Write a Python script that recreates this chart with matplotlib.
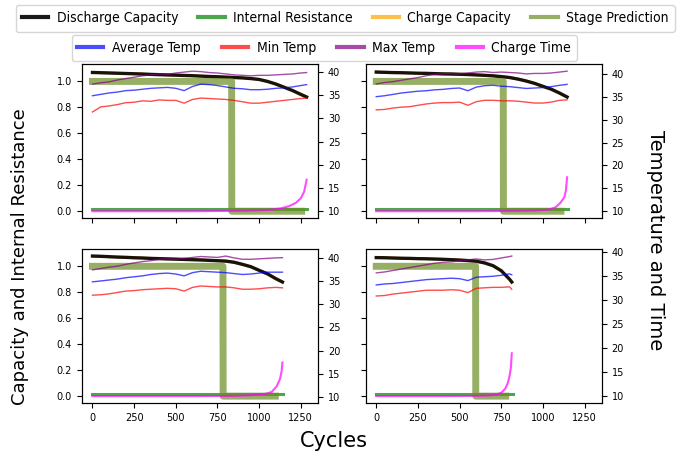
import matplotlib
matplotlib.use("Agg")
import matplotlib.pyplot as plt
from matplotlib import font_manager
from matplotlib.ticker import MultipleLocator

# ---- data (4 cells) ----
# cell A (top left)
cyc_a = [0, 50, 100, 150, 200, 250, 300, 350, 400, 450, 500, 550, 600, 650,
         700, 750, 800, 850, 900, 950, 1000, 1050, 1100, 1150, 1200, 1250, 1285]
dis_a = [1.069, 1.067, 1.065, 1.063, 1.061, 1.059, 1.057, 1.054, 1.052, 1.050, 1.048, 1.046, 1.044, 1.041,
         1.038, 1.036, 1.033, 1.030, 1.027, 1.022, 1.015, 1.000, 0.980, 0.955, 0.930, 0.900, 0.880]
tmax_a = [37.4, 37.7, 37.9, 38.3, 38.6, 38.9, 39.2, 39.4, 39.6, 39.5, 39.8, 40.0, 40.2, 40.1,
          39.9, 39.8, 39.6, 39.4, 39.3, 39.2, 39.3, 39.3, 39.4, 39.5, 39.6, 39.8, 39.9]
tavg_a = [34.9, 35.2, 35.5, 35.7, 36.0, 36.1, 36.3, 36.5, 36.6, 36.7, 36.5, 36.0, 36.9, 37.4,
          37.3, 37.1, 36.8, 36.5, 36.4, 36.2, 36.2, 36.3, 36.5, 36.6, 36.8, 37.1, 37.3]
tmin_a = [31.4, 32.5, 32.7, 33.0, 33.4, 33.5, 33.8, 33.7, 34.0, 33.9, 33.9, 33.3, 34.1, 34.4,
          34.3, 34.2, 34.1, 33.9, 33.6, 33.3, 33.3, 33.5, 33.7, 33.9, 34.1, 34.3, 34.4]
ct_cyc_a = [0, 300, 600, 900, 1000, 1075, 1130, 1180, 1220, 1250, 1270, 1285]
ct_a = [10.0, 10.0, 10.0, 10.1, 10.2, 10.35, 10.6, 11.1, 11.8, 12.8, 14.2, 16.8]
stage_cyc_a = [0, 835, 836, 1255]
ir_cyc_a = [0, 1290]

# cell B (top right)
cyc_b = [0, 50, 100, 150, 200, 250, 300, 350, 400, 450, 500, 550, 600, 650,
         700, 750, 800, 850, 900, 950, 1000, 1050, 1100, 1145]
dis_b = [1.072, 1.070, 1.068, 1.067, 1.065, 1.063, 1.062, 1.060, 1.058, 1.057, 1.055, 1.053, 1.050, 1.047,
         1.043, 1.037, 1.030, 1.018, 1.003, 0.985, 0.962, 0.940, 0.910, 0.880]
tmax_b = [37.9, 38.2, 38.4, 38.7, 39.0, 39.3, 39.7, 40.0, 40.1, 40.2, 40.1, 40.3, 40.5, 40.6,
          40.4, 40.5, 40.4, 40.3, 40.1, 40.2, 40.2, 40.3, 40.5, 40.7]
tavg_b = [35.1, 35.3, 35.6, 35.9, 36.1, 36.3, 36.4, 36.6, 36.7, 36.9, 37.0, 36.4, 37.2, 37.5,
          37.6, 37.4, 37.3, 37.1, 36.9, 37.0, 37.1, 37.3, 37.6, 37.8]
tmin_b = [32.2, 32.3, 32.6, 32.8, 32.9, 33.2, 33.5, 33.7, 33.8, 33.8, 33.9, 33.2, 34.0, 34.3,
          34.3, 34.2, 34.2, 34.1, 33.9, 33.7, 33.7, 33.9, 34.3, 34.4]
ct_cyc_b = [0, 300, 600, 800, 950, 1000, 1040, 1075, 1105, 1128, 1138, 1145]
ct_b = [9.95, 9.95, 9.95, 10.0, 10.1, 10.2, 10.35, 10.8, 11.8, 13.0, 14.5, 17.4]
stage_cyc_b = [0, 762, 763, 1108]
ir_cyc_b = [0, 1150]

# cell C (bottom left)
cyc_c = [0, 50, 100, 150, 200, 250, 300, 350, 400, 450, 500, 550, 600, 650,
         700, 750, 800, 850, 900, 950, 1000, 1050, 1100, 1140]
dis_c = [1.079, 1.077, 1.074, 1.071, 1.069, 1.066, 1.064, 1.061, 1.059, 1.057, 1.055, 1.053, 1.051, 1.049,
         1.046, 1.043, 1.040, 1.031, 1.015, 0.997, 0.969, 0.942, 0.905, 0.879]
tmax_c = [37.5, 37.8, 38.1, 38.3, 38.7, 39.0, 39.3, 39.5, 39.8, 39.9, 39.8, 40.0, 40.2, 40.4,
          40.3, 40.2, 40.5, 40.1, 39.8, 39.8, 39.9, 40.0, 40.1, 40.15]
tavg_c = [34.9, 35.1, 35.3, 35.5, 35.8, 36.0, 36.2, 36.5, 36.7, 36.8, 36.6, 36.2, 36.9, 37.2,
          37.1, 37.0, 36.9, 36.7, 36.5, 36.6, 36.8, 37.0, 37.0, 37.0]
tmin_c = [32.0, 32.1, 32.3, 32.6, 32.9, 33.0, 33.2, 33.3, 33.4, 33.5, 33.4, 32.9, 33.7, 34.0,
          33.9, 33.8, 33.8, 33.6, 33.3, 33.3, 33.4, 33.6, 33.7, 33.6]
ct_cyc_c = [0, 300, 600, 850, 950, 1000, 1040, 1075, 1105, 1125, 1135, 1140]
ct_c = [10.1, 10.1, 10.1, 10.15, 10.3, 10.45, 10.6, 11.0, 12.2, 13.8, 15.5, 17.4]
stage_cyc_c = [0, 783, 784, 1097]
ir_cyc_c = [0, 1145]

# cell D (bottom right)
cyc_d = [0, 50, 100, 150, 200, 250, 300, 350, 400, 450, 500, 550, 600, 650, 700, 750, 800, 813]
dis_d = [1.067, 1.066, 1.064, 1.062, 1.061, 1.059, 1.058, 1.056, 1.054, 1.051, 1.048, 1.044, 1.039, 1.026,
         1.005, 0.966, 0.900, 0.879]
tmax_d = [35.6, 35.8, 36.1, 36.4, 36.7, 37.0, 37.3, 37.6, 37.8, 37.9, 38.1, 38.3, 38.5, 38.3,
          38.4, 38.7, 39.0, 39.1]
tavg_d = [33.1, 33.3, 33.4, 33.6, 33.8, 34.0, 34.2, 34.3, 34.4, 34.5, 34.4, 34.0, 34.7, 34.8,
          34.9, 35.1, 35.4, 35.2]
tmin_d = [30.8, 30.9, 31.2, 31.4, 31.6, 31.8, 32.0, 32.0, 32.0, 32.1, 32.0, 31.5, 32.4, 32.5,
          32.6, 32.6, 32.7, 32.2]
ct_cyc_d = [0, 200, 400, 600, 680, 720, 750, 775, 790, 800, 808, 813]
ct_d = [10.0, 10.0, 10.0, 10.05, 10.15, 10.3, 10.7, 11.6, 12.8, 14.2, 16.0, 18.9]
stage_cyc_d = [0, 596, 597, 777]
ir_cyc_d = [0, 818]

stage_vals = [1, 1, 0, 0]
ir_vals = [0.02, 0.02]

cells = [
    (cyc_a, dis_a, tmax_a, tavg_a, tmin_a, ct_cyc_a, ct_a, stage_cyc_a, ir_cyc_a),
    (cyc_b, dis_b, tmax_b, tavg_b, tmin_b, ct_cyc_b, ct_b, stage_cyc_b, ir_cyc_b),
    (cyc_c, dis_c, tmax_c, tavg_c, tmin_c, ct_cyc_c, ct_c, stage_cyc_c, ir_cyc_c),
    (cyc_d, dis_d, tmax_d, tavg_d, tmin_d, ct_cyc_d, ct_d, stage_cyc_d, ir_cyc_d),
]

# legend font: a narrow face if there is one
fonts = font_manager.fontManager.ttflist
if any(f.name == "DejaVu Sans" and "ondensed" in f.fname for f in fonts):
    leg_font = dict(family="DejaVu Sans", stretch="condensed", size=10)
elif any(f.name == "Liberation Sans Narrow" for f in fonts):
    leg_font = dict(family="Liberation Sans Narrow", size=11)
else:
    leg_font = dict(family="DejaVu Sans", size=9)

fig, axes = plt.subplots(2, 2, sharex=True, sharey=True, figsize=(6.81, 4.55), dpi=100)
fig.subplots_adjust(left=0.12, right=0.884, bottom=0.114, top=0.859, wspace=0.2, hspace=0.2)

for ax, (cyc, dis, tmax, tavg, tmin, ct_cyc, ct, st_cyc, ir_cyc) in zip(axes.flat, cells):
    ax.plot(cyc, dis, color="orange", alpha=0.7, lw=2, zorder=1.9, label="Charge Capacity")
    ax.plot(cyc, dis, color="black", alpha=0.9, lw=2.4, label="Discharge Capacity")
    ax.plot(ir_cyc, ir_vals, color="green", alpha=0.7, lw=2.2, label="Internal Resistance")
    ax.plot(st_cyc, stage_vals, color="olivedrab", alpha=0.7, lw=5, label="Stage Prediction")
    ax.xaxis.set_major_locator(MultipleLocator(250))
    ax.tick_params(labelsize=7)

    ax2 = ax.twinx()
    ax2.plot(cyc, tavg, color="blue", alpha=0.7, lw=1, label="Average Temp")
    ax2.plot(cyc, tmin, color="red", alpha=0.7, lw=1, label="Min Temp")
    ax2.plot(cyc, tmax, color="purple", alpha=0.7, lw=1, label="Max Temp")
    ax2.plot(ct_cyc, ct, color="magenta", alpha=0.7, lw=1.5, label="Charge Time")
    ax2.tick_params(labelsize=7)

h1, l1 = axes[0, 0].get_legend_handles_labels()
order = [1, 2, 0, 3]
h1 = [h1[i] for i in order]
l1 = [l1[i] for i in order]
h2, l2 = ax2.get_legend_handles_labels()

leg1 = fig.legend(h1, l1, loc="upper center", bbox_to_anchor=(0.507, 0.989), ncol=4,
                  prop=leg_font, handlelength=1.9, handletextpad=0.6, columnspacing=1.45,
                  borderaxespad=0, borderpad=0.45)
leg2 = fig.legend(h2, l2, loc="upper center", bbox_to_anchor=(0.476, 0.922), ncol=4,
                  prop=leg_font, handlelength=1.9, handletextpad=0.6, columnspacing=1.55,
                  borderaxespad=0, borderpad=0.4)
for leg in (leg1, leg2):
    for line in leg.get_lines():
        line.set_linewidth(3)

fig.text(0.49, 0.03, "Cycles", ha="center", va="center", fontsize=15)
fig.text(0.03, 0.437, "Capacity and Internal Resistance", ha="center", va="center",
         rotation=90, fontsize=13)
fig.text(0.962, 0.473, "Temperature and Time", ha="center", va="center",
         rotation=270, fontsize=14)

fig.savefig("out.png", dpi=100)
